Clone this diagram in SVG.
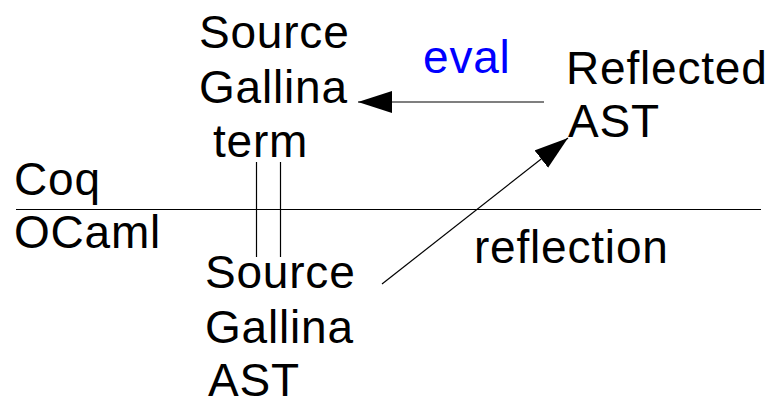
<svg xmlns="http://www.w3.org/2000/svg" width="773" height="397" viewBox="0 0 773 397">
<style>
text { font-family: "Liberation Sans", Arial, sans-serif; font-size: 46px; letter-spacing: 0.8px; fill: #000; }
.blue { fill: #0000ff; }
.ln { stroke: #000; stroke-width: 1.2; fill: none; }
</style>
<defs>
<marker id="ah" markerUnits="userSpaceOnUse" markerWidth="36" markerHeight="24" refX="34" refY="11" orient="auto" viewBox="0 0 36 24">
<path d="M0,0 L34,11 L0,22 z" fill="#000"/>
</marker>
</defs>
<rect width="773" height="397" fill="#fff"/>
<g id="divider">
<line class="ln" x1="16" y1="209.5" x2="761" y2="209.5"/>
</g>
<g id="coq-label"><text x="14" y="195">Coq</text></g>
<g id="ocaml-label"><text x="14" y="248">OCaml</text></g>
<g id="source-term">
<text x="199" y="48">Source</text>
<text x="199" y="103">Gallina</text>
<text x="213" y="157">term</text>
</g>
<g id="reflected-ast">
<text x="566" y="84">Reflected</text>
<text x="568" y="137">AST</text>
</g>
<g id="source-ast">
<text x="205" y="288">Source</text>
<text x="205" y="343">Gallina</text>
<text x="208" y="396">AST</text>
</g>
<g id="connectors">
<line class="ln" x1="256.5" y1="162" x2="256.5" y2="257"/>
<line class="ln" x1="280.5" y1="162" x2="280.5" y2="257"/>
<line class="ln" x1="544" y1="102" x2="358" y2="102" marker-end="url(#ah)"/>
<line class="ln" x1="382" y1="284" x2="568" y2="138" marker-end="url(#ah)"/>
<text class="blue" x="423" y="73">eval</text>
<text x="474" y="263">reflection</text>
</g>
</svg>
